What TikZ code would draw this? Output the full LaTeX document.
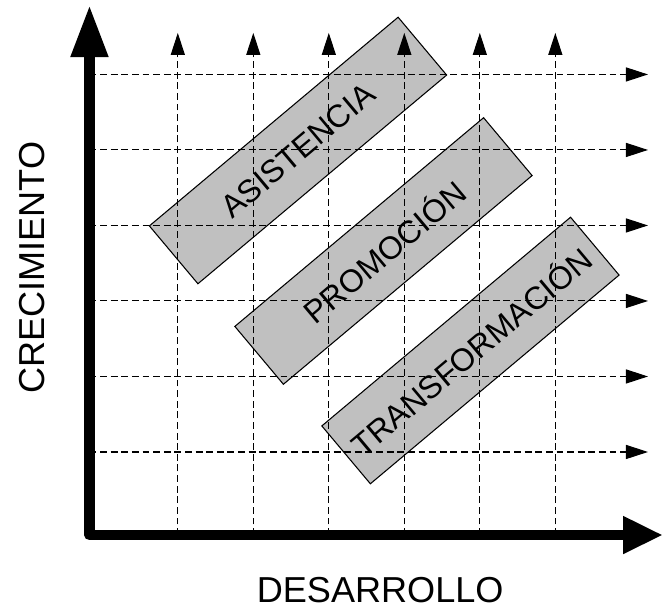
\documentclass[tikz,border=0pt]{standalone}
\usepackage{fontspec}
\setmainfont{Liberation Sans}
\usetikzlibrary{arrows.meta}
\definecolor{relleno}{HTML}{C0C0C0}
\newcommand*{\xMin}{0}
\newcommand*{\xMax}{5}
\newcommand*{\yMin}{0}
\newcommand*{\yMax}{5}

\begin{document}
\begin{tikzpicture}[
	banda/.style={draw,fill=relleno,line width=.4pt,rotate=40,minimum width=4.3cm,minimum height=1cm,inner sep=0pt,font=\fontsize{12}{14}\selectfont},
	rejilla/.style={line width=.4pt,dash pattern=on 2.6pt off 1.4pt,-{Triangle[length=8.3pt,width=5.3pt]}},
	rotulo/.style={font=\fontsize{13.6}{16}\selectfont,inner sep=0pt}]
	\useasboundingbox (-1.185,-0.954) rectangle (7.596,7.086);
	
	% bandas
	\node[banda] (asistencia) at (2.762,5.093) {ASISTENCIA};
	\node[banda] (promocion) at (3.894,3.762) {PROMOCIÓN};
	\node[banda] (transformacion) at (5.046,2.444) {TRANSFORMACIÓN};
	
	% rejilla
	\foreach \i in {\xMin,...,\xMax} {
		\draw [rejilla] (1.17+\i,0) -- (1.17+\i,6.65);
	}
	\foreach \i in {\yMin,...,\yMax} {
		\draw [rejilla] (0,1.1+\i) -- (7.397,1.1+\i);
	}
	
	% ejes
	\coordinate (origen) at (0,0);
	\coordinate (ejeY) at (0,7.02);
	\coordinate (ejeX) at (7.596,0);
	\draw[line width=4pt,line join=round,{Triangle[length=19.6pt,width=13.2pt]}-{Triangle[length=15pt,width=13.2pt]}] (ejeY) -- (origen) -- (ejeX);
	
	\node[rotulo,anchor=base] (desarrollo) at (3.85,-0.9) {DESARROLLO};
	\node[rotulo,anchor=base,rotate=90] (crecimiento) at (-0.589,3.54) {CRECIMIENTO};
\end{tikzpicture}
\end{document}
